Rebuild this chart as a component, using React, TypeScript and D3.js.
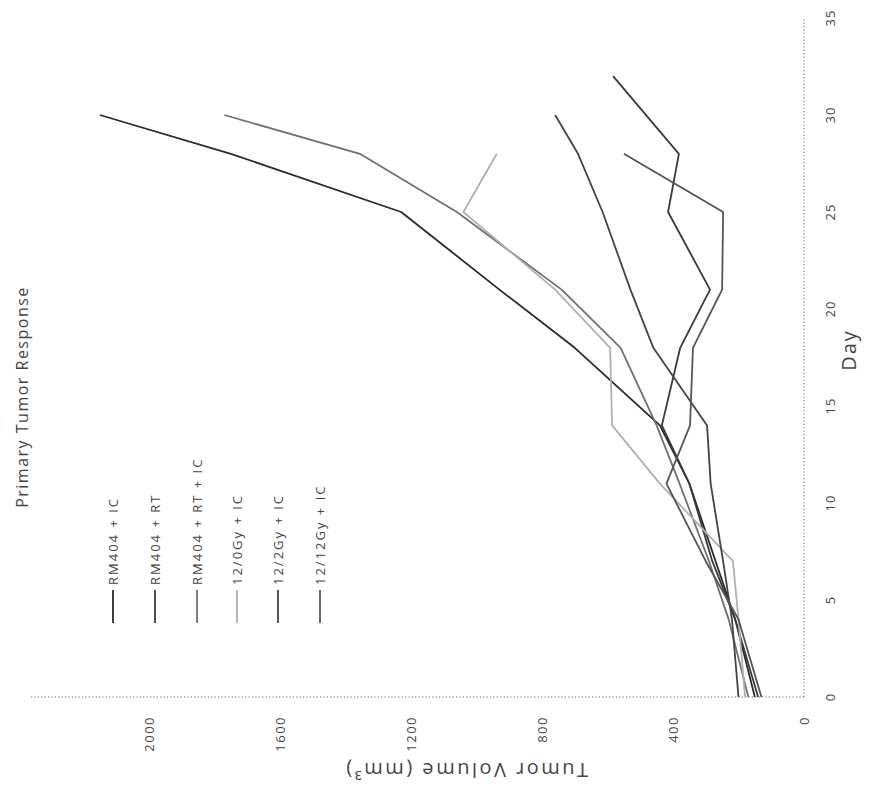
import React from "react";
import * as d3 from "d3";

const W = 882;
const H = 799;

const chartTitle = "Primary Tumor Response";
const xTitle = "Day";
const yTitle = "Tumor Volume (mm³)";

const dayTicks = [0, 5, 10, 15, 20, 25, 30, 35];
const volTicks = [0, 400, 800, 1200, 1600, 2000];

const seriesNames = [
  "RM404 + IC",
  "RM404 + RT",
  "RM404 + RT + IC",
  "12/0Gy + IC",
  "12/2Gy + IC",
  "12/12Gy + IC",
];
const seriesColors = ["#2a2a2a", "#3a3a3a", "#707070", "#b0b0b0", "#444444", "#555555"];

// series values (day, volume)
const daysA = [0, 4, 7, 11, 14, 18, 21, 25, 28, 30];
const volA = [150, 210, 270, 350, 440, 700, 930, 1230, 1750, 2150];

const daysD = [0, 4, 7, 11, 14, 18, 21, 25, 28, 32];
const volD = [140, 210, 280, 350, 434, 378, 287, 415, 382, 583];

const daysB = [0, 4, 7, 11, 14, 18, 21, 25, 28, 30];
const volB = [170, 230, 290, 380, 450, 560, 740, 1060, 1356, 1770];

const daysF = [0, 4, 7, 11, 14, 18, 21, 25, 28];
const volF = [180, 200, 217, 440, 586, 592, 760, 1040, 938];

const daysC = [0, 4, 7, 11, 14, 18, 21, 25, 28, 30];
const volC = [200, 220, 247, 285, 296, 460, 530, 615, 690, 760];

const daysE = [0, 4, 7, 11, 14, 18, 21, 25, 28];
const volE = [130, 200, 300, 420, 348, 339, 250, 247, 550];

const seriesDays = [daysA, daysD, daysB, daysF, daysC, daysE];
const seriesVols = [volA, volD, volB, volF, volC, volE];

const FONT = "'Open Sans', 'Noto Sans', sans-serif";

export default function App() {
  // Unrotated frame: width = H (799), height = W (882); rotated -90° onto the page
  const x = d3.scaleLinear().domain([0, 35]).range([102, 781]);
  const y = d3.scaleLinear().domain([0, 2000]).range([804, 149]);
  const yMax = 2360;

  const line = d3
    .line<[number, number]>()
    .x((d) => x(d[0]))
    .y((d) => y(d[1]));

  const legendX0 = 176;
  const legendX1 = 209;
  const legendYs = [113, 155, 197, 237, 278, 320];

  return (
    <svg
      width={W}
      height={H}
      style={{ position: "absolute", left: 0, top: 0, background: "#fff" }}
    >
      <rect x={0} y={0} width={W} height={H} fill="#fff" />
      <g transform={`translate(0,${H}) rotate(-90)`} fontFamily={FONT}>
        {/* axes */}
        <line
          x1={x(0)}
          x2={x(35)}
          y1={y(0)}
          y2={y(0)}
          stroke="#666"
          strokeWidth={1}
          strokeDasharray="1.2,2.2"
        />
        <line
          x1={x(0)}
          x2={x(0)}
          y1={y(0)}
          y2={y(yMax)}
          stroke="#666"
          strokeWidth={1}
          strokeDasharray="1.2,2.2"
        />
        {/* day tick labels */}
        {dayTicks.map((t) => (
          <text
            key={"d" + t}
            x={x(t)}
            y={830}
            textAnchor="middle"
            dominantBaseline="central"
            fontSize={13}
            letterSpacing={1}
            fill="#444"
          >
            {t}
          </text>
        ))}
        {/* volume tick labels */}
        {volTicks.map((t) => (
          <text
            key={"v" + t}
            x={83}
            y={y(t)}
            textAnchor="end"
            dominantBaseline="central"
            fontSize={13}
            letterSpacing={1.5}
            fill="#444"
          >
            {t}
          </text>
        ))}
        {/* axis titles */}
        <text
          x={449}
          y={848}
          textAnchor="middle"
          dominantBaseline="central"
          fontSize={20}
          letterSpacing={2}
          fill="#444"
        >
          {xTitle}
        </text>
        <text
          transform={`translate(29,466) rotate(-90)`}
          textAnchor="middle"
          dominantBaseline="central"
          fontSize={20}
          letterSpacing={2.5}
          fill="#444"
        >
          {yTitle}
        </text>
        {/* chart title */}
        <text
          x={402}
          y={22}
          textAnchor="middle"
          dominantBaseline="central"
          fontSize={16}
          letterSpacing={1.5}
          fill="#444"
        >
          {chartTitle}
        </text>
        {/* series lines */}
        {seriesDays.map((days, i) => {
          const pts: [number, number][] = days.map((d, j) => [d, seriesVols[i][j]]);
          return (
            <path
              key={"s" + i}
              d={line(pts) || ""}
              fill="none"
              stroke={seriesColors[i]}
              strokeWidth={1.8}
              strokeLinejoin="round"
            />
          );
        })}
        {/* legend */}
        {seriesNames.map((name, i) => (
          <g key={"l" + i}>
            <line
              x1={legendX0}
              x2={legendX1}
              y1={legendYs[i]}
              y2={legendYs[i]}
              stroke={seriesColors[i]}
              strokeWidth={1.8}
            />
            <text
              x={legendX1 + 5}
              y={legendYs[i]}
              dominantBaseline="central"
              fontSize={13}
              letterSpacing={2}
              fill="#444"
            >
              {name}
            </text>
          </g>
        ))}
      </g>
    </svg>
  );
}
